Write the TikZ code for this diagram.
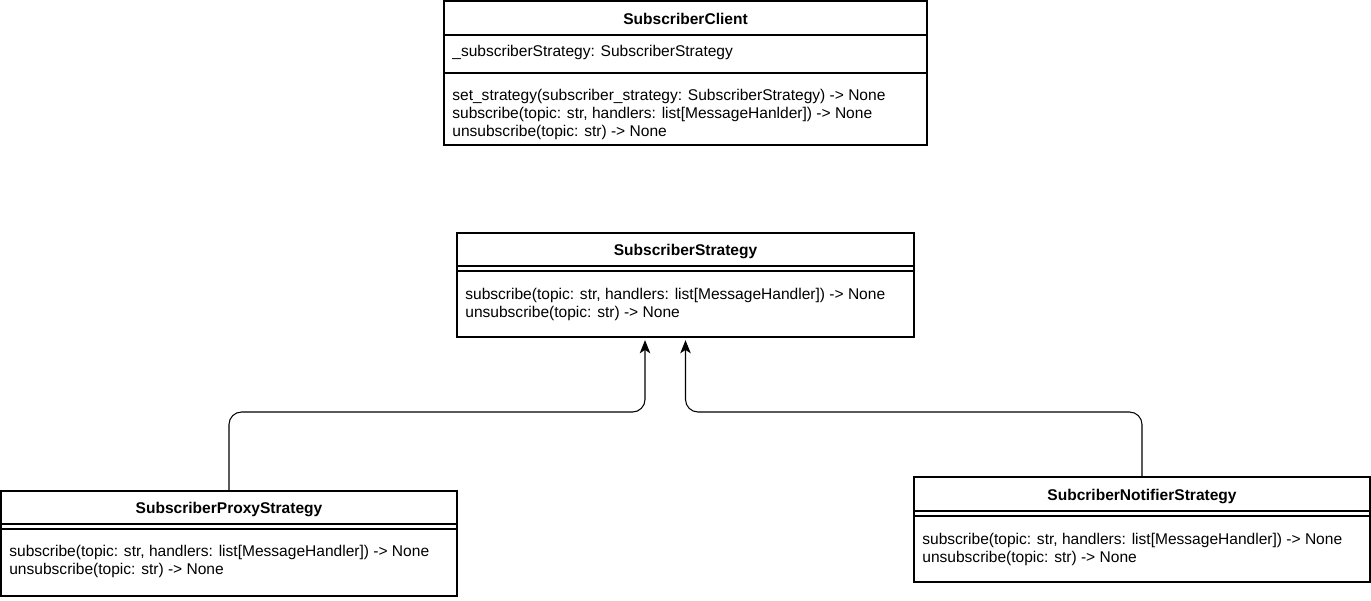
\documentclass[tikz,border=0pt]{standalone}
\usepackage{fontspec}
\setmainfont{Liberation Sans}
\usetikzlibrary{arrows.meta,positioning,fit,calc}

\tikzset{
  box/.style={draw, line width=0.6pt, inner sep=0pt},
  sep/.style={line width=0.6pt},
  title/.style={font=\fontsize{8.85}{10.2}\selectfont\bfseries, inner sep=0pt},
  member/.style={font=\fontsize{8.85}{10.2}\selectfont, align=left, anchor=north west, inner sep=0pt},
  inh/.style={-{Stealth[length=7.5pt,width=6pt,inset=2pt]}, line width=0.6pt, rounded corners=0.25cm, shorten >=1.5pt}
}

\begin{document}
\begin{tikzpicture}[x=0.02cm, y=-0.02cm]
  \useasboundingbox (0,0) rectangle (1371,600);

  % SubscriberClient
  \node[box, fit={(444,1) (927,145)}] (client) {};
  \draw[sep] (444,35) -- (927,35);
  \draw[sep] (444,73) -- (927,73);
  \node[title] (clientT) at (685.5,19) {SubscriberClient};
  \node[member, anchor=west] (clientA) at (452,52) {\_subscriberStrategy: SubscriberStrategy};
  \node[member] (clientM) at (452,89) {set\_strategy(subscriber\_strategy: SubscriberStrategy) -> None\\
    subscribe(topic: str, handlers: list[MessageHanlder]) -> None\\
    unsubscribe(topic: str) -> None};

  % SubscriberStrategy
  \node[box, fit={(457,233) (914,337)}] (strategy) {};
  \draw[sep] (457,266) -- (914,266);
  \draw[sep] (457,271) -- (914,271);
  \node[title] (strategyT) at (685.5,251) {SubscriberStrategy};
  \node[member] (strategyM) at (465,288) {subscribe(topic: str, handlers: list[MessageHandler]) -> None\\
    unsubscribe(topic: str) -> None};

  % SubscriberProxyStrategy
  \node[box, fit={(1,491) (457,596)}] (proxy) {};
  \draw[sep] (1,524) -- (457,524);
  \draw[sep] (1,529) -- (457,529);
  \node[title] (proxyT) at (229,509) {SubscriberProxyStrategy};
  \node[member] (proxyM) at (9,545) {subscribe(topic: str, handlers: list[MessageHandler]) -> None\\
    unsubscribe(topic: str) -> None};

  % SubcriberNotifierStrategy
  \node[box, fit={(914,477) (1370,582)}] (notifier) {};
  \draw[sep] (914,511) -- (1370,511);
  \draw[sep] (914,516) -- (1370,516);
  \node[title] (notifierT) at (1142,496) {SubcriberNotifierStrategy};
  \node[member] (notifierM) at (922,533) {subscribe(topic: str, handlers: list[MessageHandler]) -> None\\
    unsubscribe(topic: str) -> None};

  % inheritance
  \draw[inh] (proxy.north) -- (proxy.north |- 0,412) -- ([xshift=-0.81cm]strategy.south |- 0,412) -- ([xshift=-0.81cm]strategy.south);
  \draw[inh] (notifier.north) -- (notifier.north |- 0,412) -- (strategy.south |- 0,412) -- (strategy.south);
\end{tikzpicture}
\end{document}
